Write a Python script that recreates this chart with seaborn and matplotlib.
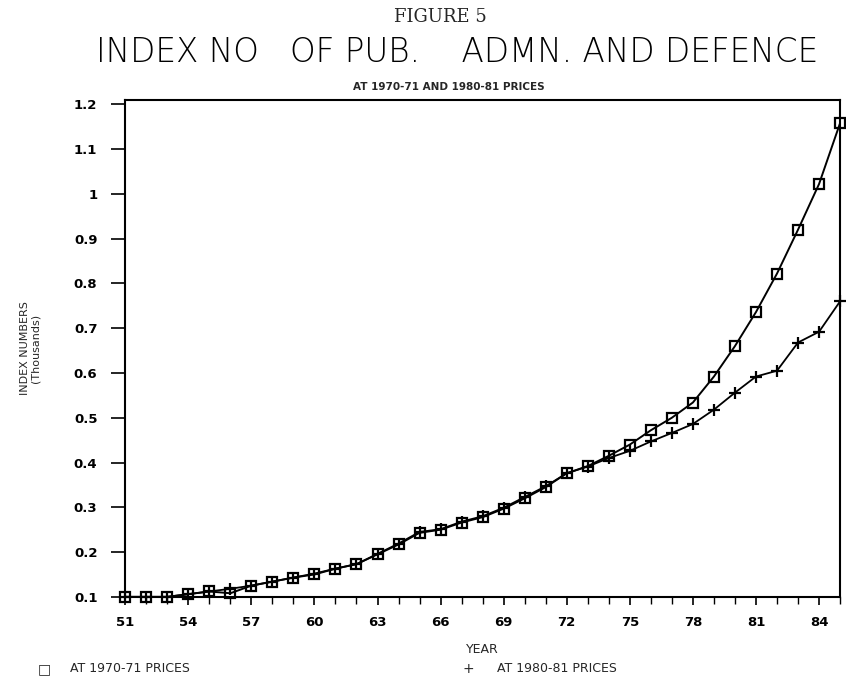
import matplotlib
matplotlib.use("Agg")
import matplotlib.pyplot as plt
import seaborn as sns
import pandas as pd
from matplotlib.ticker import MultipleLocator, FixedLocator

years = list(range(51, 86))
prices_7071 = [0.100, 0.100, 0.100, 0.106, 0.112, 0.108, 0.125, 0.134, 0.143, 0.150,
               0.163, 0.173, 0.195, 0.217, 0.243, 0.250, 0.266, 0.278, 0.297, 0.320,
               0.345, 0.376, 0.392, 0.415, 0.440, 0.472, 0.500, 0.534, 0.592, 0.660,
               0.736, 0.822, 0.920, 1.022, 1.158]
prices_8081 = [0.100, 0.100, 0.100, 0.106, 0.112, 0.118, 0.125, 0.134, 0.143, 0.152,
               0.163, 0.173, 0.196, 0.219, 0.245, 0.251, 0.268, 0.280, 0.299, 0.323,
               0.347, 0.376, 0.391, 0.410, 0.426, 0.447, 0.466, 0.486, 0.518, 0.556,
               0.592, 0.605, 0.668, 0.692, 0.760]
x_ticks = [51, 54, 57, 60, 63, 66, 69, 72, 75, 78, 81, 84]
y_ticks = [0.1, 0.2, 0.3, 0.4, 0.5, 0.6, 0.7, 0.8, 0.9, 1.0, 1.1, 1.2]
y_tick_labels = ["0.1", "0.2", "0.3", "0.4", "0.5", "0.6", "0.7", "0.8", "0.9", "1", "1.1", "1.2"]
series_names = ["AT 1970-71 PRICES", "AT 1980-81 PRICES"]

df_a = pd.DataFrame({"year": years, "value": prices_7071})
df_b = pd.DataFrame({"year": years, "value": prices_8081})

sns.set_style("white")
plt.rcParams["font.family"] = ["DejaVu Sans"]

fig = plt.figure(figsize=(8.46, 6.79), dpi=100)
ax = fig.add_axes([0.148, 0.121, 0.845, 0.732])

sns.lineplot(data=df_a, x="year", y="value", ax=ax, color="black", linewidth=1.4,
             marker="s", markersize=7, markerfacecolor="none", markeredgecolor="black",
             markeredgewidth=1.6, clip_on=False)
sns.lineplot(data=df_b, x="year", y="value", ax=ax, color="black", linewidth=1.3,
             marker="+", markersize=8, markeredgecolor="black", markeredgewidth=1.6,
             clip_on=False)

ax.set_xlim(51, 85)
ax.set_ylim(0.1, 1.21)
ax.xaxis.set_major_locator(FixedLocator(x_ticks))
ax.xaxis.set_minor_locator(MultipleLocator(1))
ax.yaxis.set_major_locator(FixedLocator(y_ticks))
ax.set_yticklabels(y_tick_labels)
ax.set_xticklabels([str(v) for v in x_ticks])

for s in ax.spines.values():
    s.set_visible(True)
    s.set_color("black")
    s.set_linewidth(1.5)

ax.tick_params(axis="both", which="major", direction="out", length=8, width=1.2,
               colors="black", labelsize=9.5)
ax.tick_params(axis="x", which="minor", direction="out", length=5, width=1.0,
               colors="black", bottom=True)
ax.tick_params(axis="x", which="major", bottom=True, length=6, pad=8)
ax.tick_params(axis="y", which="major", left=True, length=10, pad=10)
for lab in ax.get_xticklabels() + ax.get_yticklabels():
    lab.set_fontweight("bold")

ax.set_xlabel("YEAR", fontsize=9, labelpad=10)
ax.set_ylabel("INDEX NUMBERS\n(Thousands)", fontsize=8, labelpad=24, linespacing=1.0)

fig.text(0.52, 0.975, "FIGURE 5", ha="center", va="center", fontsize=13,
         family="DejaVu Serif")
fig.text(0.54, 0.922, "INDEX NO   OF PUB.    ADMN. AND DEFENCE", ha="center",
         va="center", fontsize=23.5, fontweight="light", color="black")
fig.text(0.53, 0.872, "AT 1970-71 AND 1980-81 PRICES", ha="center", va="center",
         fontsize=7.5, fontweight="bold")

fig.text(0.052, 0.015, "\u25a1", ha="center", va="center", fontsize=10)
fig.text(0.083, 0.015, series_names[0], ha="left", va="center", fontsize=9)
fig.text(0.553, 0.015, "+", ha="center", va="center", fontsize=10)
fig.text(0.588, 0.015, series_names[1], ha="left", va="center", fontsize=9)

fig.savefig("out.png", dpi=100)
